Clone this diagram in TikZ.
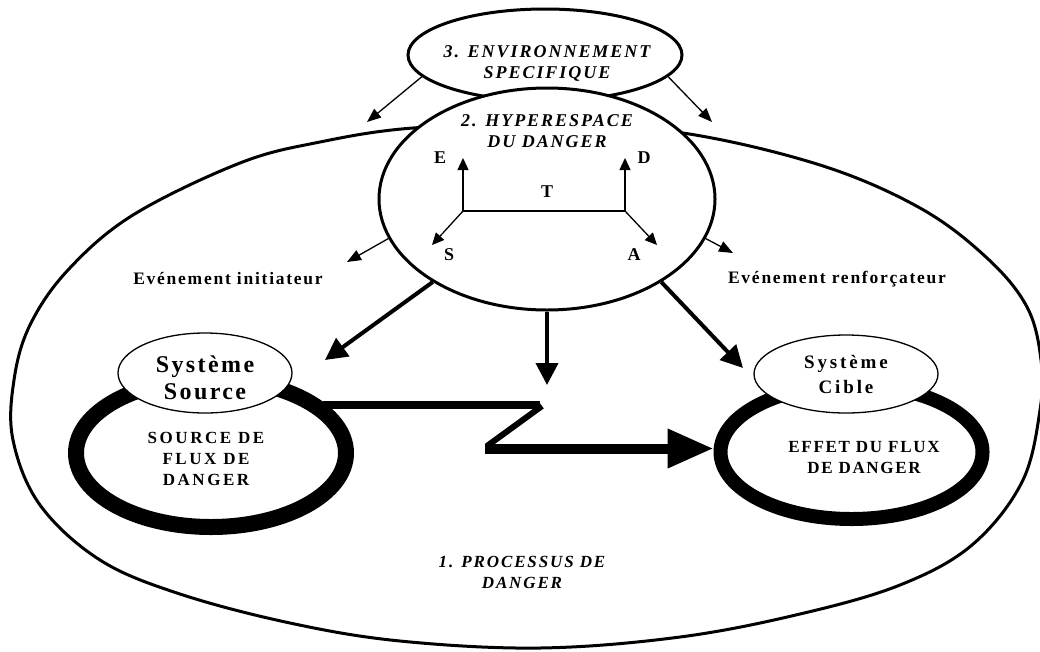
\documentclass[tikz,border=0pt]{standalone}
\usepackage{fontspec}
\setmainfont{Liberation Serif}
\newfontfamily\ttlfont[LetterSpace=11]{Liberation Serif}
\newfontfamily\lblAfont[LetterSpace=10]{Liberation Serif}
\newfontfamily\lblBfont[LetterSpace=15]{Liberation Serif}
\usetikzlibrary{shapes.geometric,arrows.meta}
\begin{document}
\begin{tikzpicture}[x=1pt,y=-1pt,
  bigline/.style={line width=3pt},
  oval/.style={ellipse,draw,fill=white,inner sep=0pt},
  thinarr/.style={line width=1.3pt,-{Triangle[length=14pt,width=11pt]}},
  axisline/.style={line width=1.3pt},
  axisarr/.style={line width=1.3pt,-{Triangle[length=12pt,width=11pt]}},
  thickarr/.style={line width=4pt,-{Triangle[length=22pt,width=22pt]}},
  thickring/.style={ellipse,draw,inner sep=0pt},
  ttl/.style={font=\ttlfont\bfseries\itshape\fontsize{18}{21}\selectfont,align=center,inner sep=0pt},
  axlbl/.style={font=\bfseries\fontsize{18}{21}\selectfont,inner sep=0pt},
  evlbl/.style={font=\lblAfont\bfseries\fontsize{17.5}{21}\selectfont,inner sep=0pt},
  boxlbl/.style={font=\lblAfont\bfseries\fontsize{17}{21}\selectfont,align=center,inner sep=0pt},
]
\useasboundingbox (0,0) rectangle (1040,651);
% 1. big process shape
\draw[bigline] plot[smooth cycle, tension=0.6] coordinates {
  (413,128) (550,124) (683,133) (820,165) (920,208) (987,258) (1027,307)
  (1041,360) (1040,410) (1022,482) (972,545) (900,585) (800,614) (680,637)
  (540,648) (400,641) (290,623) (180,594) (100,560) (40,505) (13,440)
  (14,380) (30,325) (68,270) (133,215) (240,163) (320,142)};
% 3. environment
\node[oval,line width=3pt,minimum width=274pt,minimum height=92pt] (env) at (545,55) {};
% 2. hyperspace
\node[oval,line width=3pt,minimum width=336pt,minimum height=222pt] (hyper) at (547,199) {};
% thin arrows
\coordinate (envL) at (367,122);
\coordinate (envR) at (712,122);
\coordinate (hypL) at (347,262);
\coordinate (hypR) at (733,253);
\draw[thinarr] (env.190) -- (envL);
\draw[thinarr] (env.350) -- (envR);
\draw[thinarr] (hyper.194) -- (hypL);
\draw[thinarr] (hyper.346) -- (hypR);
% axes
\coordinate (o1) at (463,211);
\coordinate (o2) at (625,211);
\coordinate (tipE) at (463,158);
\coordinate (tipD) at (625,158);
\coordinate (tipS) at (432,245);
\coordinate (tipA) at (657,245);
\draw[axisline] (o1) -- (o2);
\draw[axisarr] (o1) -- (tipE);
\draw[axisarr] (o2) -- (tipD);
\draw[axisarr] (o1) -- (tipS);
\draw[axisarr] (o2) -- (tipA);
% rings
\node[thickring,line width=16pt,minimum width=270pt,minimum height=148pt] (srcring) at (211,453) {};
\node[thickring,line width=14pt,minimum width=262pt,minimum height=134pt] (tgtring) at (851.5,452) {};
% small ellipses
\node[oval,line width=1.3pt,minimum width=174pt,minimum height=80pt] (src) at (205,373) {};
\node[oval,line width=1.3pt,minimum width=184pt,minimum height=78pt] (tgt) at (846,374) {};
% thick arrows
\coordinate (tkL) at (325,360);
\coordinate (tkM) at (547,385);
\coordinate (tkR) at (743,368);
\draw[thickarr] (hyper.216) -- (tkL);
\draw[thickarr] (hyper.south) -- (tkM);
\draw[thickarr] (hyper.324) -- (tkR);
% zigzag flux
\coordinate (z1) at (323,404.5);
\coordinate (z2) at (540,404.5);
\coordinate (z3) at (542,406);
\coordinate (z4) at (487,446);
\coordinate (z5) at (485,448.5);
\draw[line width=8pt] (z1) -- (z2);
\draw[line width=6pt] (z3) -- (z4);
\draw[line width=10pt,-{Triangle[length=46pt,width=37pt]}] (z5) -- (z5 -| tgtring.west);
% texts
\node[ttl] (tenv) at (547,63) {3. ENVIRONNEMENT\\SPECIFIQUE};
\node[ttl] (thyp) at (547,131.5) {2. HYPERESPACE\\DU DANGER};
\node[axlbl] (lE) at (440,158) {E};
\node[axlbl] (lD) at (644,158) {D};
\node[axlbl] (lT) at (547,192) {T};
\node[axlbl] (lS) at (449,255) {S};
\node[axlbl] (lA) at (634,255) {A};
\node[evlbl] (ini) at (228,279) {Evénement initiateur};
\node[evlbl] (ren) at (837,279) {Evénement renforçateur};
\node[font=\lblAfont\bfseries\fontsize{24}{27}\selectfont,align=center,inner sep=0pt] (tsrc) at (205,378) {Système\\Source};
\node[font=\lblBfont\bfseries\fontsize{19}{25}\selectfont,align=center,inner sep=0pt] (ttgt) at (846,374) {Système\\Cible};
\node[boxlbl,font=\lblBfont\bfseries\fontsize{17}{21}\selectfont] (tsf) at (206,459) {SOURCE DE\\FLUX DE\\DANGER};
\node[boxlbl] (tef) at (864,457.5) {EFFET DU FLUX\\DE DANGER};
\node[font=\ttlfont\bfseries\itshape\fontsize{17}{21}\selectfont,align=center,inner sep=0pt] (tproc) at (522,572.5) {1. PROCESSUS DE\\DANGER};
\end{tikzpicture}
\end{document}
